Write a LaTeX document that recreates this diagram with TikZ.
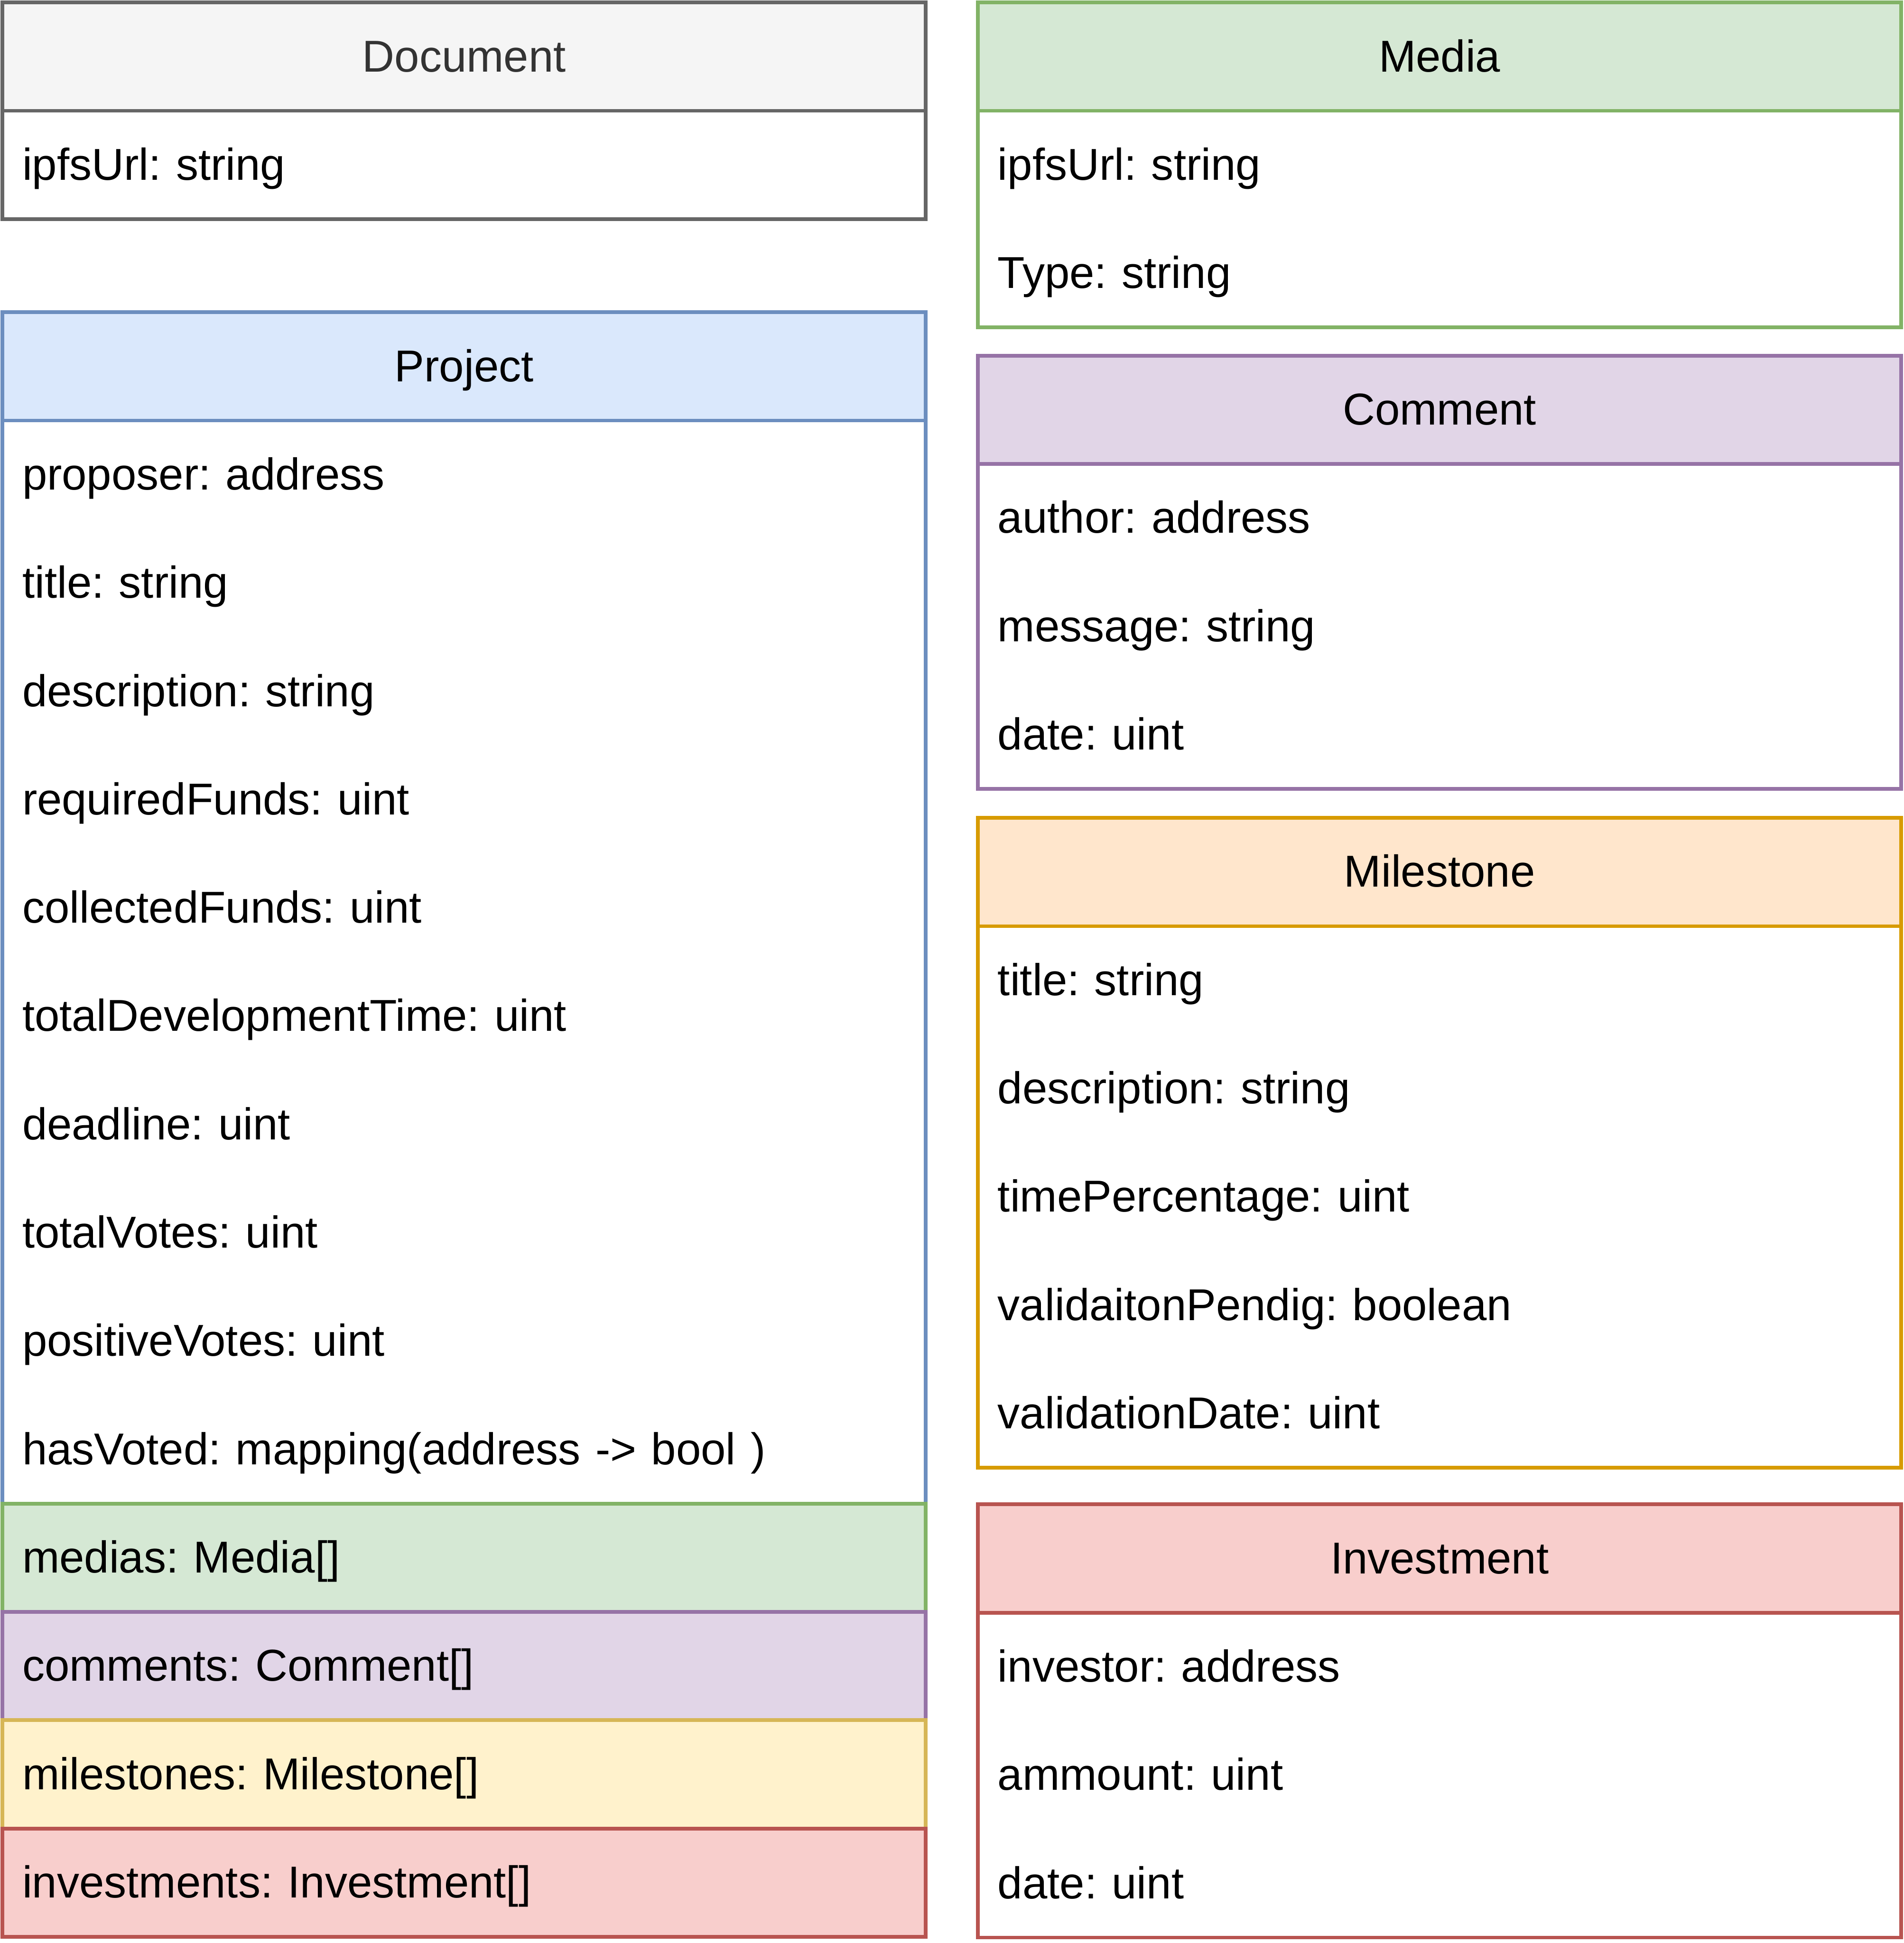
\documentclass[tikz,border=0pt]{standalone}
\usepackage{fontspec}
\setmainfont{Liberation Sans}
\usepackage{xcolor}
\usepackage{tikz}
\usetikzlibrary{positioning}
\frenchspacing

\definecolor{docfill}{HTML}{F5F5F5}
\definecolor{docline}{HTML}{666666}
\definecolor{doctext}{HTML}{333333}
\definecolor{prjfill}{HTML}{DAE8FC}
\definecolor{prjline}{HTML}{6C8EBF}
\definecolor{medfill}{HTML}{D5E8D4}
\definecolor{medline}{HTML}{82B366}
\definecolor{comfill}{HTML}{E1D5E7}
\definecolor{comline}{HTML}{9673A6}
\definecolor{milfill}{HTML}{FFE6CC}
\definecolor{milline}{HTML}{D79B00}
\definecolor{mslfill}{HTML}{FFF2CC}
\definecolor{mslline}{HTML}{D6B656}
\definecolor{invfill}{HTML}{F8CECC}
\definecolor{invline}{HTML}{B85450}

\tikzset{
  txt/.style={font=\fontsize{10.25}{12}\selectfont\frenchspacing, text height=0.9em, text depth=0.21em, outer sep=0pt},
  head/.style={txt, draw, line width=0.85pt, minimum width=7.45cm, minimum height=0.874cm,
    inner sep=0pt, anchor=north west},
  field/.style={txt, minimum height=0.874cm, text width=7.13cm, inner xsep=0.16cm,
    inner ysep=0pt, align=left},
  colfield/.style={field, draw, line width=0.85pt},
  frame/.style={line width=0.85pt}
}

\begin{document}
\begin{tikzpicture}
		\useasboundingbox (0,0) rectangle (15.36,-15.68);

		% Document
		\node[head, fill=docfill, draw=docline, text=doctext] (doc0) at (0.02,-0.02) {Document};
		\node[field, below=0pt of doc0] (doc1) {ipfsUrl: string};
		\draw[frame, docline] (doc0.south west) rectangle (doc1.south east);

		% Project
		\node[head, fill=prjfill, draw=prjline] (prj0) at (0.02,-2.52) {Project};
		\foreach \t [count=\i, remember=\i as \last (initially 0)] in {proposer: address, title: string,
		  description: string, requiredFunds: uint, collectedFunds: uint, totalDevelopmentTime: uint,
		  deadline: uint, totalVotes: uint, positiveVotes: uint, hasVoted: mapping(address -> bool )}
		  \node[field, below=0pt of prj\last] (prj\i) {\t};
		\draw[frame, prjline] (prj0.south west) rectangle (prj10.south east);
		\foreach \t/\c [count=\i from 11, remember=\i as \last (initially 10)] in {medias: Media[]/med,
		  comments: Comment[]/com, milestones: Milestone[]/msl, investments: Investment[]/inv}
		  \node[colfield, draw=\c line, fill=\c fill, below=0pt of prj\last] (prj\i) {\t};

		% Media
		\node[head, fill=medfill, draw=medline] (med0) at (7.89,-0.02) {Media};
		\foreach \t [count=\i, remember=\i as \last (initially 0)] in {ipfsUrl: string, Type: string}
		  \node[field, below=0pt of med\last] (med\i) {\t};
		\draw[frame, medline] (med0.south west) rectangle (med2.south east);

		% Comment
		\node[head, fill=comfill, draw=comline] (com0) at (7.89,-2.87) {Comment};
		\foreach \t [count=\i, remember=\i as \last (initially 0)] in {author: address, message: string, date: uint}
		  \node[field, below=0pt of com\last] (com\i) {\t};
		\draw[frame, comline] (com0.south west) rectangle (com3.south east);

		% Milestone
		\node[head, fill=milfill, draw=milline] (mil0) at (7.89,-6.60) {Milestone};
		\foreach \t [count=\i, remember=\i as \last (initially 0)] in {title: string, description: string,
		  timePercentage: uint, validaitonPendig: boolean, validationDate: uint}
		  \node[field, below=0pt of mil\last] (mil\i) {\t};
		\draw[frame, milline] (mil0.south west) rectangle (mil5.south east);

		% Investment
		\node[head, fill=invfill, draw=invline] (inv0) at (7.89,-12.14) {Investment};
		\foreach \t [count=\i, remember=\i as \last (initially 0)] in {investor: address, ammount: uint, date: uint}
		  \node[field, below=0pt of inv\last] (inv\i) {\t};
		\draw[frame, invline] (inv0.south west) rectangle (inv3.south east);

	\end{tikzpicture}
\end{document}
